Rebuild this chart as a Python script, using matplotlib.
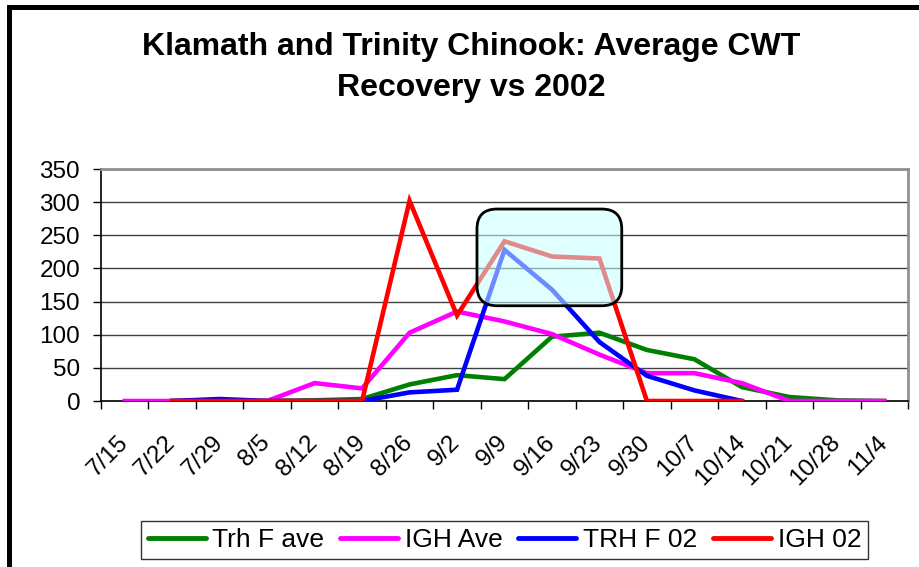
import numpy as np
import matplotlib
matplotlib.use("Agg")
import matplotlib.pyplot as plt
from matplotlib.patches import FancyBboxPatch, Rectangle
from matplotlib.transforms import IdentityTransform, ScaledTranslation

plt.rcParams['font.family'] = ['Liberation Sans', 'DejaVu Sans']

categories = ['7/15', '7/22', '7/29', '8/5', '8/12', '8/19', '8/26', '9/2', '9/9',
              '9/16', '9/23', '9/30', '10/7', '10/14', '10/21', '10/28', '11/4']
trh_f_ave = [np.nan, 0, 0, 0, 1, 3, 25, 39, 33, 97, 103, 77, 63, 21, 6, 1, 0]
igh_ave = [0, 0, 0, 0, 27, 19, 103, 135, 120, 101, 70, 42, 42, 27, 0, 0, 0]
trh_f_02 = [np.nan, 0, 3, 0, 0, 0, 13, 17, 228, 168, 89, 38, 16, 0, np.nan, np.nan, np.nan]
igh_02 = [np.nan, 0, 0, 0, 0, 0, 302, 129, 241, 218, 215, 0, 0, 0, np.nan, np.nan, np.nan]
series_names = ['Trh F ave', 'IGH Ave', 'TRH F 02', 'IGH 02']
series_colors = ['#008000', '#FF00FF', '#0000FF', '#FF0000']
yticks = [0, 50, 100, 150, 200, 250, 300, 350]

W, H = 920, 567
fig = plt.figure(figsize=(W / 100, H / 100), dpi=100)
ax = fig.add_axes([101 / W, 1 - 401 / H, (908 - 101) / W, (401 - 169) / H])

x = np.arange(len(categories))
for vals, name, col in zip([trh_f_ave, igh_ave, trh_f_02, igh_02], series_names, series_colors):
    ax.plot(x, vals, color=col, lw=3.3, label=name, solid_joinstyle='miter', zorder=3)

ax.set_xlim(-0.5, len(categories) - 0.5)
ax.set_ylim(0, 350)
ax.set_yticks(yticks)
ax.set_yticklabels([str(v) for v in yticks], fontsize=17.5)
ax.set_xticks(np.arange(len(categories) + 1) - 0.5)
ax.set_xticklabels([])
ax.set_xticks(x, minor=True)
ax.set_xticklabels(categories, minor=True, rotation=45, ha='right', va='top',
                   rotation_mode='anchor', fontsize=17.5)
ax.tick_params(axis='x', which='minor', length=0, pad=6)
ax.tick_params(axis='x', which='major', length=6, width=1, direction='out', color='black')
ax.tick_params(axis='y', length=6, width=1, direction='out', color='black', pad=9)
offset = ScaledTranslation(-0.08, -0.22, fig.dpi_scale_trans)
for lab in ax.get_xticklabels(minor=True):
    lab.set_transform(lab.get_transform() + offset)

ax.grid(axis='y', color='#404040', lw=1, zorder=1)
for s in ['top', 'right']:
    ax.spines[s].set_color('#909090')
    ax.spines[s].set_linewidth(2)
ax.spines['left'].set_color('black')
ax.spines['bottom'].set_color('black')
ax.spines['left'].set_linewidth(1.2)
ax.spines['bottom'].set_linewidth(1.2)

# highlight box (in data coordinates -> display pixels)
(x0, y0) = ax.transData.transform((7.42, 143.7))
(x1, y1) = ax.transData.transform((10.47, 289.6))
box = FancyBboxPatch((x0, y0), x1 - x0, y1 - y0,
                     boxstyle='round,pad=0,rounding_size=20',
                     transform=IdentityTransform(), facecolor='#C8FFFF', alpha=0.55,
                     edgecolor='none', zorder=5)
fig.add_artist(box)
box_edge = FancyBboxPatch((x0, y0), x1 - x0, y1 - y0,
                          boxstyle='round,pad=0,rounding_size=20',
                          transform=IdentityTransform(), facecolor='none',
                          edgecolor='black', lw=2, zorder=6)
fig.add_artist(box_edge)

fig.text(471 / W, 1 - 67.5 / H, 'Klamath and Trinity Chinook: Average CWT\nRecovery vs 2002',
         ha='center', va='center', fontsize=23, fontweight='bold', linespacing=1.46)

leg = fig.legend(loc='center', bbox_to_anchor=(504.5 / W, 1 - 540 / H), ncol=4,
                 frameon=True, fancybox=False, fontsize=19, handlelength=2.2,
                 handletextpad=0.25, columnspacing=0.6, borderpad=0.25,
                 borderaxespad=0)
leg.get_frame().set_edgecolor('black')
leg.get_frame().set_linewidth(1)
for line in leg.get_lines():
    line.set_linewidth(3.5)
    line.set_solid_capstyle('round')

# outer chart frame (extends beyond right/bottom edges)
frame = Rectangle((9.5 / W, -0.1), 1.2, 1 - 6.5 / H + 0.1, transform=fig.transFigure,
                  fill=False, edgecolor='black', lw=3.6, zorder=10)
fig.add_artist(frame)

fig.savefig('out.png', dpi=100, facecolor='white')
